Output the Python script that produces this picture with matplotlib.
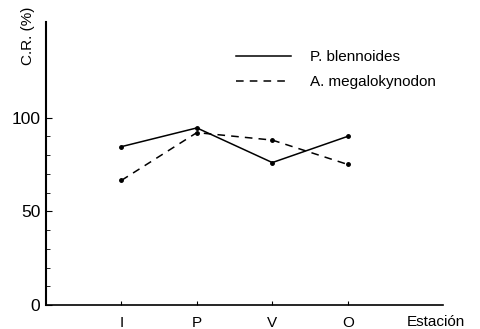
import matplotlib
matplotlib.use("Agg")
import matplotlib.pyplot as plt

# data
estaciones = ["I", "P", "V", "O"]
blennoides = [84.5, 94.5, 76, 90]
megalokynodon = [66.5, 92, 88, 75]

plt.rcParams["font.family"] = ["Liberation Sans", "DejaVu Sans"]

fig = plt.figure(figsize=(4.81, 3.29), dpi=100)
ax = fig.add_axes([0.0956, 0.073, 0.825, 0.86])

x = list(range(1, len(estaciones) + 1))
ax.plot(x, blennoides, color="black", lw=1.1, marker="o", ms=2.5, label="P. blennoides")
ax.plot(x, megalokynodon, color="black", lw=1.1, ls=(0, (5, 4)), marker="o", ms=2.5,
        label="A. megalokynodon")

ax.set_xlim(0, 5.26)
ax.set_ylim(0, 151)
ax.set_xticks(x)
ax.set_xticklabels(estaciones, fontsize=11)
ax.set_yticks([0, 50, 100])
ax.set_yticks(range(10, 100, 10), minor=True)
ax.tick_params(axis="y", which="major", labelsize=12.5, direction="in", length=4, pad=4)
ax.tick_params(axis="y", which="minor", direction="in", length=3)
ax.tick_params(axis="x", direction="in", length=3, pad=8)

for s in ["top", "right"]:
    ax.spines[s].set_visible(False)
ax.spines["left"].set_linewidth(1.5)
ax.spines["bottom"].set_linewidth(1.2)

ax.text(-0.045, 1.055, "C.R. (%)", rotation=90, transform=ax.transAxes,
        ha="center", va="top", fontsize=11)
ax.text(4.78, -0.06, "Estación", transform=ax.get_xaxis_transform(),
        ha="left", va="center", fontsize=11)

ax.legend(loc="upper left", bbox_to_anchor=(0.443, 0.95), frameon=False, fontsize=11,
          handlelength=3.6, handletextpad=1.3, labelspacing=0.75, markerscale=0)

fig.savefig("out.png", dpi=100)
